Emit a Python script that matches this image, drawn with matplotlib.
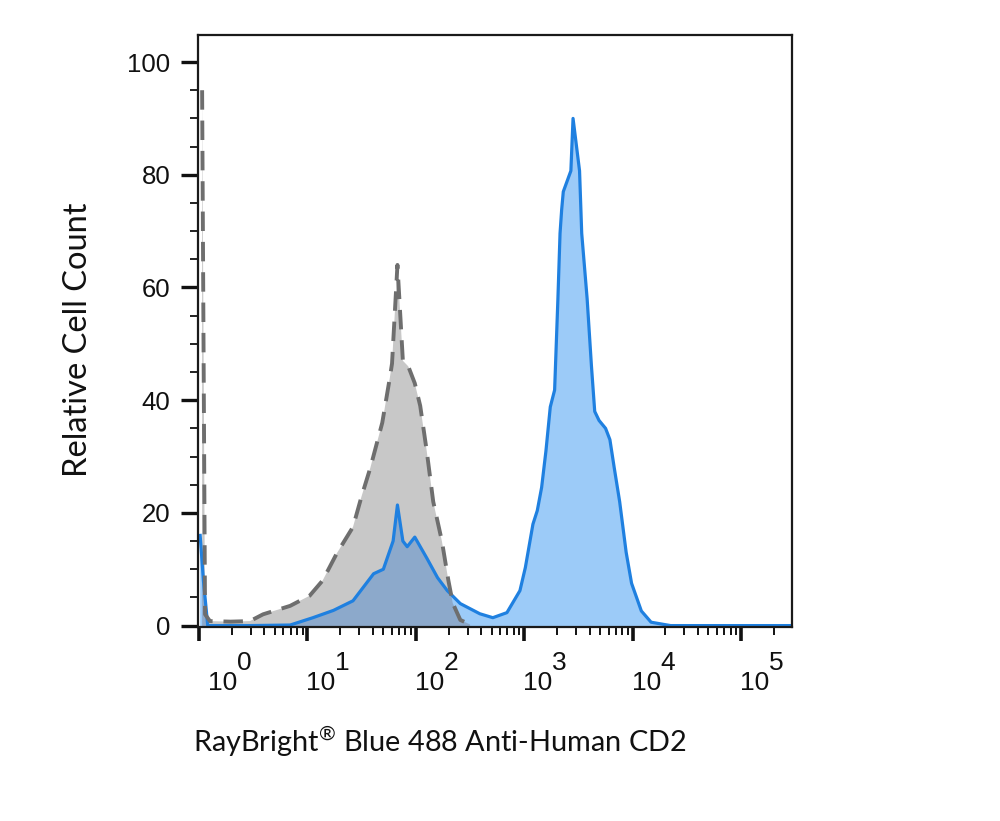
import numpy as np
import matplotlib
matplotlib.use("Agg")
import matplotlib.pyplot as plt
from matplotlib.transforms import offset_copy, blended_transform_factory

# ---------------- data (x as log10 of intensity) ----------------
gray_log_x = [0.028, 0.055, 0.10, 0.29, 0.47, 0.59, 0.84, 1.02, 1.14, 1.27, 1.42, 1.50,
              1.58, 1.69, 1.76, 1.78, 1.83, 1.88, 1.93, 1.99, 2.04, 2.10, 2.16, 2.24,
              2.30, 2.34, 2.41, 2.50]
gray_counts = [95, 2, 0.8, 0.7, 0.8, 2, 3.5, 5.3, 8, 12.8, 17.5, 23,
               28, 36, 44, 46.5, 64, 47, 46, 43, 39, 31, 22, 15,
               8, 4, 1, 0.2]

blue_log_x = [0.01, 0.04, 0.08, 0.47, 0.84, 1.05, 1.24, 1.42, 1.61, 1.70, 1.79, 1.83,
              1.88, 1.92, 1.99, 2.10, 2.20, 2.29, 2.41, 2.59, 2.71, 2.84, 2.96, 3.01,
              3.08, 3.12, 3.16, 3.20, 3.24, 3.28, 3.31, 3.33, 3.345, 3.36, 3.43, 3.45,
              3.51, 3.53, 3.58, 3.62, 3.65, 3.69, 3.75, 3.79, 3.83, 3.88, 3.94, 3.99,
              4.08, 4.17, 4.35, 5.46]
blue_counts = [16, 8, 0, 0, 0.1, 1.4, 2.7, 4.4, 9.2, 10, 15, 21.4,
               15, 14, 15.7, 12, 8.5, 6.2, 3.9, 2.1, 1.4, 2.3, 6.2, 10.3,
               18, 20.4, 24.5, 31, 38.8, 41.8, 57.8, 69.6, 73.8, 77, 80.7, 90,
               80.7, 69.6, 58, 46, 38, 36.4, 35, 33, 28, 22, 13, 7.5,
               2.6, 0.6, 0, 0]

y_ticks = [0, 20, 40, 60, 80, 100]
x_decades = [0, 1, 2, 3, 4, 5]
x_label = "RayBright$^{®}$ Blue 488 Anti-Human CD2"
y_label = "Relative Cell Count"

# ---------------- styling ----------------
plt.rcParams["mathtext.fontset"] = "custom"
plt.rcParams["mathtext.rm"] = "Lato"
plt.rcParams["mathtext.it"] = "Lato:italic"
plt.rcParams["mathtext.bf"] = "Lato:bold"

GRAY_FILL = "#c8c8c8"
GRAY_LINE = "#6e6e6e"
BLUE_FILL = "#9ccbf8"
BLUE_LINE = "#1f80e0"
OVERLAP = "#8ca9cb"

fig = plt.figure(figsize=(10, 8.21), dpi=100)
ax = fig.add_axes([0.198, 1 - 627 / 821, 0.594, (627 - 35) / 821])
ax.set_xscale("log")
ax.set_xlim(10 ** -0.01, 10 ** 5.47)
ax.set_ylim(-0.25, 104.8)

gx = 10 ** np.asarray(gray_log_x)
gy = np.asarray(gray_counts)
bx = 10 ** np.asarray(blue_log_x)
by = np.asarray(blue_counts)

base = -2
gpoly = ax.fill(np.r_[gx[0], gx, gx[-1]], np.r_[base, gy, base],
                color=GRAY_FILL, lw=0, zorder=1)[0]
bpoly = ax.fill(np.r_[bx[0], bx, bx[-1]], np.r_[base, by, base],
                color=BLUE_FILL, lw=0, zorder=2)[0]
opoly = ax.fill(np.r_[gx[0], gx, gx[-1]], np.r_[base, gy, base],
                color=OVERLAP, lw=0, zorder=3)[0]
opoly.set_clip_path(bpoly)

ax.plot(bx, by, color=BLUE_LINE, lw=2.3, zorder=4, solid_joinstyle="round")
ax.plot(gx, gy, color=GRAY_LINE, lw=2.8, zorder=5, dashes=(5.0, 2.8))

# spines
for s in ax.spines.values():
    s.set_linewidth(1.6)
    s.set_color("#1a1a1a")
    s.set_zorder(6)

# y ticks
ax.set_yticks(y_ticks)
ax.set_yticks(np.arange(0, 101, 5), minor=True)
ax.tick_params(axis="y", which="major", direction="out", length=12, width=2.4,
               pad=8, labelsize=18.5, colors="#111111")
ax.tick_params(axis="y", which="minor", direction="out", length=6, width=1.3,
               colors="#111111")
for lab in ax.get_yticklabels():
    lab.set_fontfamily("Liberation Sans")

# x ticks
ax.set_xticks([10.0 ** k for k in x_decades])
ax.xaxis.set_minor_locator(matplotlib.ticker.LogLocator(base=10, subs=np.arange(2, 10)))
ax.xaxis.set_minor_formatter(matplotlib.ticker.NullFormatter())
ax.set_xticklabels([])
ax.tick_params(axis="x", which="major", direction="out", length=10, width=2.6,
               colors="#111111")
ax.tick_params(axis="x", which="minor", direction="out", length=5.5, width=1.4,
               colors="#111111")

trans = blended_transform_factory(ax.transData, ax.transAxes)
for k in x_decades:
    dx = 9 if k == 0 else -1
    t1 = offset_copy(trans, fig=fig, x=dx, y=-63, units="dots")
    ax.text(10.0 ** k, 0, "10", transform=t1, ha="left", va="baseline",
            fontsize=19, family="Liberation Sans", color="#111111", clip_on=False)
    t2 = offset_copy(trans, fig=fig, x=dx + 29, y=-43, units="dots")
    ax.text(10.0 ** k, 0, str(k), transform=t2, ha="left", va="baseline",
            fontsize=19, family="Liberation Sans", color="#111111", clip_on=False)

fig.text(0.4395, 1 - 742 / 821, x_label, ha="center", va="center",
         fontsize=20.8, family="Lato", color="#111111")
fig.text(0.078, 1 - 340 / 821, y_label, ha="center", va="center", rotation=90,
         fontsize=23.5, family="Lato", color="#111111")

fig.savefig("out.png", dpi=100)
